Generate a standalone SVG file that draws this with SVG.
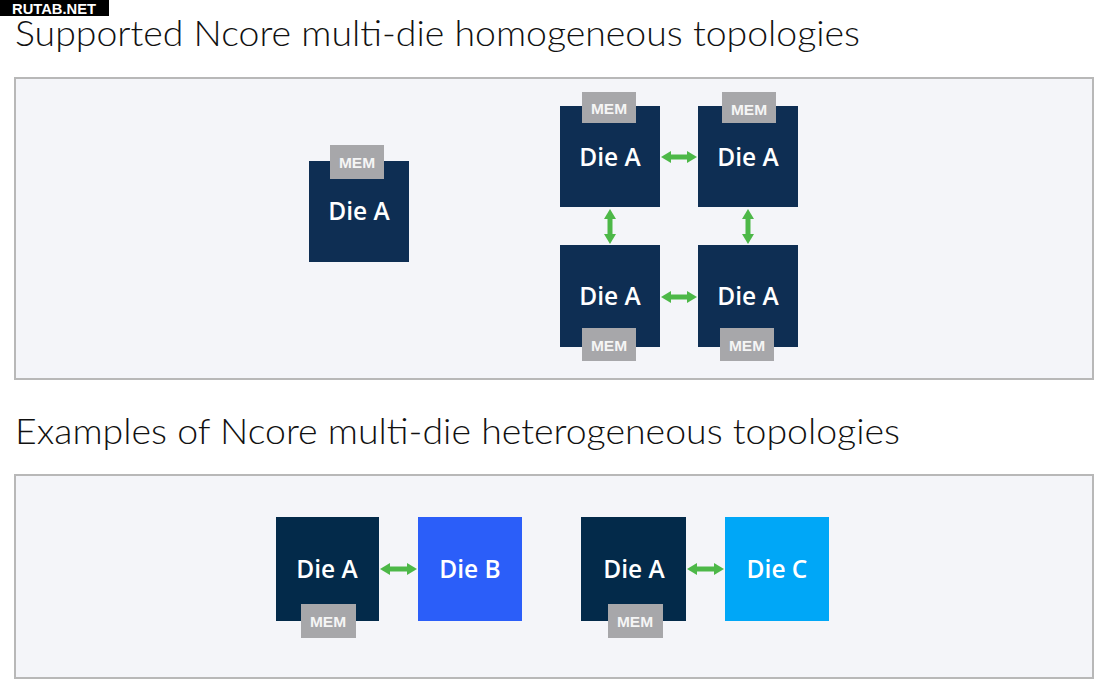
<svg xmlns="http://www.w3.org/2000/svg" width="1111" height="693" viewBox="0 0 1111 693">
<style>
.title{font-family:Lato,"Open Sans","Liberation Sans",sans-serif;font-weight:300;font-size:35px;fill:#111}
.panel{fill:#f4f5f9;stroke:#b8b8b8;stroke-width:2}
.dieA{fill:#0e2e53}
.dieA2{fill:#032a4a}
.dieB{fill:#2b5ef9}
.dieC{fill:#00a7f7}
.mem{fill:#a7a7aa}
.lbl{font-family:"Open Sans","Liberation Sans",sans-serif;font-weight:600;font-size:24.5px;fill:#fff;text-anchor:middle}
.memt{font-family:"Liberation Sans",Arial,sans-serif;font-weight:700;font-size:15.5px;fill:#f5f5f5;text-anchor:middle}
.conn{stroke:#4db848;stroke-width:5;fill:none}
</style>
<defs>
<marker id="ah" viewBox="0 0 10 12" refX="5" refY="6" markerWidth="10" markerHeight="12" markerUnits="userSpaceOnUse" orient="auto-start-reverse">
<path d="M0,0 L10,6 L0,12 z" fill="#4db848"/>
</marker>
</defs>
<rect width="1111" height="693" fill="#ffffff"/>
<g id="watermark">
<rect x="0" y="0" width="109" height="16" fill="#000"/>
<text x="12" y="13.5" font-family="'Liberation Sans',Arial,sans-serif" font-weight="700" font-size="14" fill="#fff" textLength="84" lengthAdjust="spacingAndGlyphs">RUTAB.NET</text>
</g>
<text class="title" x="15" y="46" textLength="845" lengthAdjust="spacingAndGlyphs">Supported Ncore multi-die homogeneous topologies</text>
<text class="title" x="15" y="444" textLength="885" lengthAdjust="spacingAndGlyphs">Examples of Ncore multi-die heterogeneous topologies</text>
<rect class="panel" x="15" y="78" width="1078" height="301"/>
<rect class="panel" x="15" y="475" width="1078" height="203"/>

<g id="single-dieA">
<rect class="dieA" x="309" y="161" width="100" height="101"/>
<rect class="mem" x="330" y="145" width="54" height="34"/>
<text class="memt" x="357" y="168">MEM</text>
<text class="lbl" x="359" y="220">Die A</text>
</g>

<g id="grid-tl">
<rect class="dieA" x="560" y="106" width="100" height="101"/>
<rect class="mem" x="582" y="92" width="54" height="31"/>
<text class="memt" x="609" y="113.5">MEM</text>
<text class="lbl" x="610" y="166">Die A</text>
</g>
<g id="grid-tr">
<rect class="dieA" x="698" y="106" width="100" height="101"/>
<rect class="mem" x="722" y="92" width="54" height="31"/>
<text class="memt" x="749" y="114.5">MEM</text>
<text class="lbl" x="748" y="166">Die A</text>
</g>
<g id="grid-bl">
<rect class="dieA" x="560" y="245" width="100" height="102"/>
<rect class="mem" x="582" y="328" width="54" height="33"/>
<text class="memt" x="609" y="350.5">MEM</text>
<text class="lbl" x="610" y="305">Die A</text>
</g>
<g id="grid-br">
<rect class="dieA" x="698" y="245" width="100" height="102"/>
<rect class="mem" x="720" y="328" width="54" height="33"/>
<text class="memt" x="747" y="350.5">MEM</text>
<text class="lbl" x="748" y="305">Die A</text>
</g>

<g id="het1-dieA">
<rect class="dieA2" x="276" y="517" width="103" height="104"/>
<rect class="mem" x="301" y="604" width="55" height="34"/>
<text class="memt" x="328" y="626.5">MEM</text>
<text class="lbl" x="327" y="578">Die A</text>
</g>
<g id="het1-dieB">
<rect class="dieB" x="418" y="517" width="104" height="104"/>
<text class="lbl" x="470" y="578">Die B</text>
</g>
<g id="het2-dieA">
<rect class="dieA2" x="581" y="517" width="105" height="104"/>
<rect class="mem" x="608" y="604" width="55" height="34"/>
<text class="memt" x="635" y="626.5">MEM</text>
<text class="lbl" x="634" y="578">Die A</text>
</g>
<g id="het2-dieC">
<rect class="dieC" x="725" y="517" width="104" height="104"/>
<text class="lbl" x="777" y="578">Die C</text>
</g>

<g id="connectors">
<line class="conn" x1="666" y1="157" x2="692" y2="157" marker-start="url(#ah)" marker-end="url(#ah)"/>
<line class="conn" x1="666" y1="297" x2="692" y2="297" marker-start="url(#ah)" marker-end="url(#ah)"/>
<line class="conn" x1="610" y1="214" x2="610" y2="239" marker-start="url(#ah)" marker-end="url(#ah)"/>
<line class="conn" x1="748" y1="214" x2="748" y2="239" marker-start="url(#ah)" marker-end="url(#ah)"/>
<line class="conn" x1="385" y1="569" x2="412" y2="569" marker-start="url(#ah)" marker-end="url(#ah)"/>
<line class="conn" x1="692" y1="569" x2="719" y2="569" marker-start="url(#ah)" marker-end="url(#ah)"/>
</g>
</svg>
